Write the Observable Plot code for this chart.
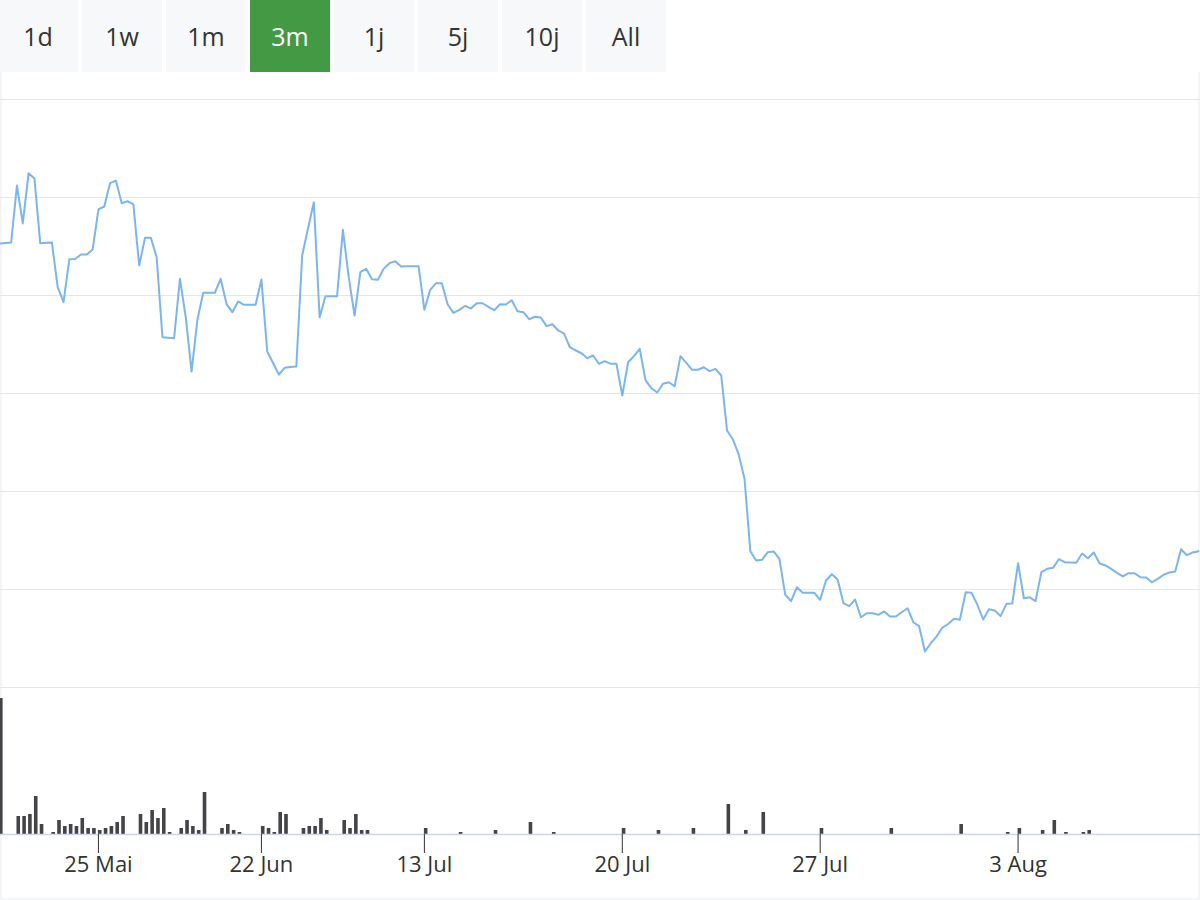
<!DOCTYPE html>
<html>
<head>
<meta charset="utf-8">
<script src="https://cdn.jsdelivr.net/npm/d3@7"></script>
<script src="https://cdn.jsdelivr.net/npm/@observablehq/plot@0.6"></script>
<style>
  html, body { margin: 0; padding: 0; background: #fff; }
  #wrap { position: relative; width: 1200px; height: 900px; overflow: hidden; font-family: 'Open Sans', sans-serif; }
  #buttons { position: absolute; top: 0; left: -2px; display: flex; gap: 4px; }
  .btn { width: 80px; height: 72px; background: #f7f8fa; color: #333; font-size: 25px; display: flex; align-items: center; justify-content: center; }
  .btn.active { background: #449944; color: #fff; }
  #frame { position: absolute; top: 72px; left: 0; width: 1200px; height: 828px; box-sizing: border-box; border: 2px solid #f4f5f7; border-top: none; }
  #price { position: absolute; top: 72px; left: 0; }
  #volume { position: absolute; top: 694px; left: 0; }
</style>
</head>
<body>
<div id="wrap">
  <div id="frame"></div>
  <div id="buttons"></div>
  <div id="price"></div>
  <div id="volume"></div>
</div>
<script>
// Range selector buttons
const buttonLabels = ["1d", "1w", "1m", "3m", "1j", "5j", "10j", "All"];
const activeButton = "3m";

// Price series (one value per trading point, ordinal index)
const prices = [
  145.31, 145.36, 145.41, 151.22, 147.35, 152.48, 151.94, 145.34, 145.38, 145.41,
  140.85, 139.32, 143.70, 143.72, 144.18, 144.18, 144.69, 148.78, 149.08, 151.46,
  151.73, 149.42, 149.62, 149.29, 143.06, 145.89, 145.89, 143.91, 135.74, 135.69,
  135.64, 141.70, 137.79, 132.24, 137.52, 140.28, 140.28, 140.28, 141.70, 139.15,
  138.30, 139.39, 139.05, 139.05, 139.05, 141.63, 134.29, 133.11, 131.94, 132.62,
  132.70, 132.76, 144.08, 146.84, 149.52, 137.79, 139.93, 139.93, 139.93, 146.70,
  141.87, 137.96, 142.38, 142.72, 141.66, 141.60, 142.72, 143.30, 143.50, 142.96,
  142.98, 142.98, 142.99, 138.54, 140.58, 141.26, 141.26, 139.08, 138.23, 138.54,
  138.95, 138.67, 139.21, 139.21, 138.85, 138.50, 139.11, 139.08, 139.52, 138.40,
  138.30, 137.58, 137.83, 137.76, 136.87, 137.07, 136.43, 136.12, 134.72, 134.39,
  134.11, 133.60, 133.88, 133.03, 133.30, 133.03, 133.03, 129.80, 133.19, 133.81,
  134.56, 131.33, 130.54, 130.10, 130.99, 131.15, 130.74, 133.81, 133.13, 132.42,
  132.42, 132.68, 132.28, 132.52, 131.84, 126.22, 125.31, 123.78, 121.30, 113.91,
  112.96, 113.03, 113.81, 113.88, 113.13, 109.46, 108.81, 110.23, 109.66, 109.66,
  109.66, 108.95, 110.92, 111.56, 111.02, 108.60, 108.30, 108.98, 107.17, 107.58,
  107.58, 107.42, 107.76, 107.24, 107.24, 107.68, 108.09, 106.66, 106.26, 103.67,
  104.52, 105.20, 106.12, 106.48, 107.01, 106.91, 109.72, 109.66, 108.47, 106.94,
  107.99, 107.86, 107.28, 108.54, 108.57, 112.68, 109.11, 109.21, 108.81, 111.77,
  112.11, 112.21, 113.09, 112.79, 112.76, 112.72, 113.67, 113.19, 113.78, 112.68,
  112.45, 112.11, 111.70, 111.33, 111.66, 111.66, 111.26, 111.22, 110.74, 111.09,
  111.50, 111.73, 111.84, 114.11, 113.50, 113.78, 113.91
];

// Volume series: ordinal index and volume
const volIdx = [0, 3, 4, 5, 6, 7, 9, 10, 11, 12, 13, 14, 15, 16, 17, 18, 19, 20, 21,
  24, 25, 26, 27, 28, 29, 31, 32, 33, 34, 35, 38, 39, 40, 41, 45, 46, 47, 48, 49,
  52, 53, 54, 55, 56, 59, 60, 61, 62, 63, 73, 79, 85, 91, 95, 107, 113, 119, 125,
  128, 131, 141, 153, 165, 173, 175, 179, 181, 183, 186, 187];
const volVals = [1360, 180, 180, 200, 380, 100, 20, 140, 80, 100, 80, 160, 60, 60, 40, 60, 80, 120, 180,
  200, 120, 240, 160, 260, 20, 60, 140, 80, 40, 420, 60, 100, 40, 20, 80, 60, 20, 220, 200,
  60, 80, 80, 160, 40, 140, 60, 200, 40, 40, 60, 20, 40, 120, 20, 60, 40, 60, 300,
  40, 220, 60, 60, 100, 20, 60, 40, 140, 20, 20, 40];

// X-axis ticks (ordinal positions) and labels
const tickIdx = [17, 45, 73, 107, 141, 175];
const tickLabels = ["25 Mai", "22 Jun", "13 Jul", "20 Jul", "27 Jul", "3 Aug"];

// Gridline values of the price panel
const gridValues = [100, 110, 120, 130, 140, 150, 160];

// ---- build
const btnBox = document.getElementById("buttons");
buttonLabels.forEach(l => {
  const b = document.createElement("div");
  b.className = "btn" + (l === activeButton ? " active" : "");
  b.textContent = l;
  btnBox.appendChild(b);
});

const priceData = prices.map((v, i) => ({i, v}));
const volData = volIdx.map((i, k) => ({i, v: volVals[k]}));
const labelMap = new Map(tickIdx.map((t, k) => [t, tickLabels[k]]));

const xScale = {domain: [0, 206], range: [-1, 1198]};

const pricePlot = Plot.plot({
  width: 1200,
  height: 622,
  marginTop: 27,
  marginBottom: 7,
  marginLeft: 0,
  marginRight: 0,
  style: {fontFamily: "'Open Sans', sans-serif", background: "transparent", overflow: "visible"},
  x: {...xScale, axis: null},
  y: {domain: [100, 160], range: [615, 27], axis: null},
  marks: [
    Plot.gridY(gridValues, {stroke: "#e6e6e6", strokeOpacity: 1, strokeWidth: 1}),
    Plot.line(priceData, {x: "i", y: "v", stroke: "#7cb5ec", strokeWidth: 2, curve: "linear"})
  ]
});
document.getElementById("price").appendChild(pricePlot);

const volPlot = Plot.plot({
  width: 1200,
  height: 206,
  marginTop: 0,
  marginBottom: 66,
  marginLeft: 0,
  marginRight: 0,
  style: {fontFamily: "'Open Sans', sans-serif", background: "transparent", overflow: "visible", color: "#333"},
  x: {...xScale, axis: null, label: null},
  y: {domain: [0, 1400], range: [140, 0], axis: null},
  marks: [
    Plot.ruleX(volData, {x: "i", y1: 0, y2: "v", stroke: "#434348", strokeWidth: 3.6, dx: 1.3}),
    Plot.ruleY([0], {stroke: "#ccd6eb", strokeWidth: 1.5}),
    Plot.axisX(tickIdx, {
      anchor: "bottom",
      label: null,
      tickSize: 19,
      tickPadding: 3,
      fontSize: 22,
      stroke: "#333",
      fill: "#333",
      tickFormat: d => labelMap.get(d)
    })
  ]
});
document.getElementById("volume").appendChild(volPlot);
</script>
</body>
</html>
